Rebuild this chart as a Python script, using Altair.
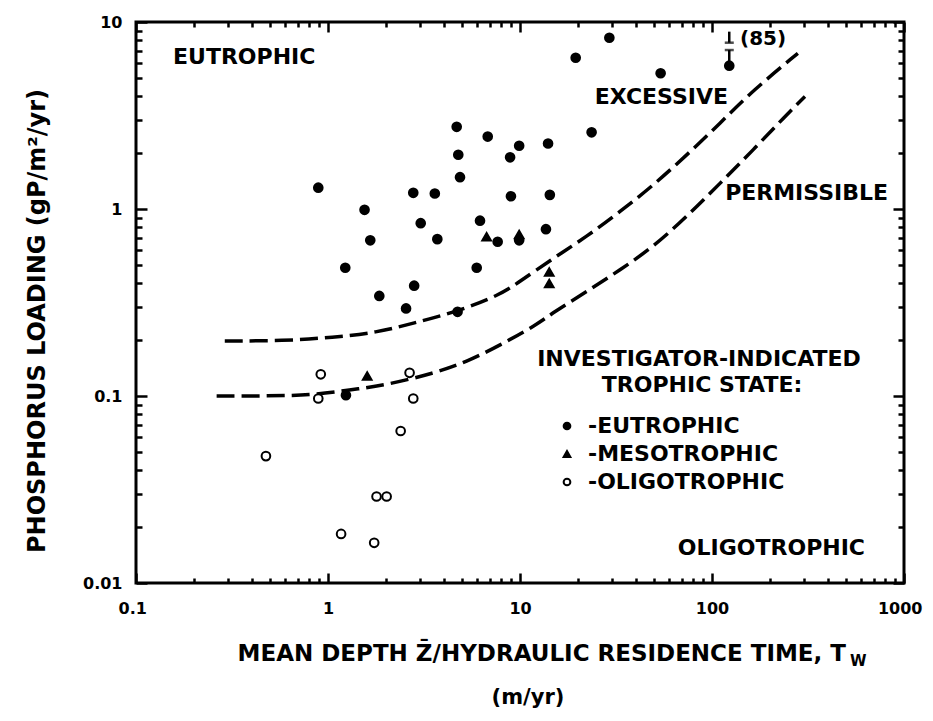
import altair as alt
import pandas as pd

# ---------------- data ----------------
eu_x = [0.89, 1.55, 1.66, 1.23, 1.85, 2.78, 3.6, 3.04, 3.71, 2.81, 2.55, 4.68, 4.77, 4.87,
        4.73, 6.79, 8.88, 9.9, 8.97, 6.19, 5.95, 7.65, 29.2, 19.5, 54, 123, 23.6, 14.0,
        14.3, 13.65, 1.24, 9.9]
eu_y = [1.30, 0.99, 0.68, 0.485, 0.343, 1.22, 1.21, 0.84, 0.69, 0.389, 0.294, 2.75, 1.95,
        1.48, 0.282, 2.44, 1.89, 2.18, 1.17, 0.866, 0.485, 0.668, 8.24, 6.44, 5.32, 5.84,
        2.57, 2.24, 1.19, 0.78, 0.101, 0.68]
meso_x = [6.7, 9.9, 14.2, 14.2, 1.60]
meso_y = [0.71, 0.73, 0.46, 0.40, 0.128]
oligo_x = [0.917, 0.89, 2.66, 2.78, 2.39, 0.475, 1.79, 2.02, 1.17, 1.74]
oligo_y = [0.1306, 0.097, 0.133, 0.097, 0.065, 0.0477, 0.029, 0.029, 0.0183, 0.0164]

states = ["EUTROPHIC", "MESOTROPHIC", "OLIGOTROPHIC"]

exc_x = [0.29, 0.585, 1.066, 1.79, 2.78, 4.68, 7.87, 10, 14.9, 22.2, 33.2, 49.5, 73.8,
         110, 164, 280]
exc_y = [0.197, 0.197, 0.206, 0.218, 0.245, 0.282, 0.347, 0.41, 0.545, 0.711, 0.967,
         1.34, 1.94, 2.87, 4.32, 6.8]
perm_x = [0.263, 0.48, 0.805, 1.30, 2.02, 3.53, 5.27, 7.87, 12.2, 14.9, 22.2, 33.2,
          49.5, 73.8, 110, 164, 245, 305]
perm_y = [0.1, 0.1, 0.101, 0.1076, 0.1146, 0.132, 0.152, 0.187, 0.24, 0.28, 0.361,
          0.472, 0.628, 0.91, 1.37, 2.07, 3.2, 4.0]

# off-scale point (85) marker
off_x = [123, 123]
off_lo = [5.84, 7.75]
off_hi = [7.08, 8.88]

x_major = [0.1, 1, 10, 100, 1000]
x_minor = [0.2, 0.3, 0.4, 0.5, 0.6, 0.7, 0.8, 0.9,
           2, 3, 4, 5, 6, 7, 8, 9,
           20, 30, 40, 50, 60, 70, 80, 90,
           200, 300, 400, 500, 600, 700, 800, 900]
y_major = [0.01, 0.1, 1, 10]
y_minor = [0.02, 0.03, 0.04, 0.05, 0.06, 0.07, 0.08, 0.09,
           0.2, 0.3, 0.4, 0.5, 0.6, 0.7, 0.8, 0.9,
           2, 3, 4, 5, 6, 7, 8, 9]

# ---------------- tables ----------------
pts = pd.DataFrame({
    "x": eu_x + meso_x + oligo_x,
    "y": eu_y + meso_y + oligo_y,
    "state": [states[0]] * len(eu_x) + [states[1]] * len(meso_x) + [states[2]] * len(oligo_x),
})
curves = pd.DataFrame({
    "x": exc_x + perm_x,
    "y": exc_y + perm_y,
    "curve": ["EXCESSIVE"] * len(exc_x) + ["PERMISSIBLE"] * len(perm_x),
    "i": list(range(len(exc_x))) + list(range(len(perm_x))),
})
offbar = pd.DataFrame({"x": off_x, "y": off_lo, "y2": off_hi})
offcap = pd.DataFrame({"x": off_x, "y": [off_hi[0], off_lo[1]]})

FONT = "DejaVu Sans"
W, H = 768, 561

xs = alt.Scale(type="log", domain=[0.1, 1000], nice=False)
ys = alt.Scale(type="log", domain=[0.01, 10], nice=False)


def ax(orient, values, size, labels=False, flush=False, **kw):
    return alt.Axis(orient=orient, values=values, tickSize=size, offset=-size,
                    domain=False, grid=False, labels=labels, ticks=True,
                    tickColor="black", tickWidth=2.5, labelFlush=flush,
                    labelOverlap=False, labelFont=FONT, labelFontWeight="bold",
                    labelFontSize=16, labelColor="black",
                    labelExpr="toString(datum.value)", **kw)


leg = alt.Legend(title=None, orient="none", legendX=420, legendY=393, padding=0,
                 labelFont=FONT, labelFontWeight="bold", labelFontSize=22,
                 labelColor="black", labelExpr="'-' + datum.label", labelLimit=500,
                 symbolSize=45, symbolStrokeWidth=2, labelOffset=10, rowPadding=6)

points = alt.Chart(pts).mark_point(filled=True, strokeWidth=2, opacity=1, size=75).encode(
    x=alt.X("x:Q", scale=xs, title=None,
            axis=ax("bottom", x_major, 10, labels=True, flush=True,
                    labelFlushOffset=18, labelPadding=17)),
    y=alt.Y("y:Q", scale=ys, title=None,
            axis=ax("left", y_major, 11, labels=True, labelPadding=14)),
    shape=alt.Shape("state:N", scale=alt.Scale(domain=states, range=["circle", "triangle-up", "circle"]), legend=leg),
    fill=alt.Fill("state:N", scale=alt.Scale(domain=states, range=["black", "black", "white"]), legend=leg),
    stroke=alt.Stroke("state:N", scale=alt.Scale(domain=states, range=["black", "black", "black"]), legend=leg),
)

lines = alt.Chart(curves).mark_line(strokeDash=[18, 7], strokeWidth=3.5, color="black",
                                    interpolate="basis").encode(
    x=alt.X("x:Q", scale=xs, title=None, axis=ax("top", x_major, 10)),
    y=alt.Y("y:Q", scale=ys, title=None, axis=ax("right", y_major, 11)),
    detail="curve:N",
    order="i:Q",
)

minor_a = alt.Chart(pts).mark_point(opacity=0).encode(
    x=alt.X("x:Q", scale=xs, title=None, axis=ax("bottom", x_minor, 5)),
    y=alt.Y("y:Q", scale=ys, title=None, axis=ax("left", y_minor, 6)),
)
minor_b = alt.Chart(pts).mark_point(opacity=0).encode(
    x=alt.X("x:Q", scale=xs, title=None, axis=ax("top", x_minor, 5)),
    y=alt.Y("y:Q", scale=ys, title=None, axis=ax("right", y_minor, 6)),
)

bar = alt.Chart(offbar).mark_rule(strokeWidth=2.5, color="black").encode(
    x=alt.X("x:Q", scale=xs, axis=None),
    y=alt.Y("y:Q", scale=ys, axis=None),
    y2="y2:Q",
)
caps = alt.Chart(offcap).mark_tick(orient="horizontal", size=9, thickness=2.5, color="black").encode(
    x=alt.X("x:Q", scale=xs, axis=None),
    y=alt.Y("y:Q", scale=ys, axis=None),
)


def label(text, px, py, size=22, align="left", angle=0):
    return alt.Chart(pd.DataFrame({"t": [text]})).mark_text(
        font=FONT, fontWeight="bold", fontSize=size, align=align, baseline="middle",
        color="black", angle=angle,
    ).encode(text="t:N", x=alt.value(px), y=alt.value(py))


texts = [
    label("EUTROPHIC", 37, 35),
    label("EXCESSIVE", 592, 75, align="right"),
    label("PERMISSIBLE", 752, 171, align="right"),
    label("INVESTIGATOR-INDICATED", 563, 337, align="center"),
    label("TROPHIC STATE:", 566, 363, align="center"),
    label("OLIGOTROPHIC", 729, 526, align="right"),
    label("(85)", 604, 17, size=20),
    label("MEAN DEPTH Z\u0304/HYDRAULIC RESIDENCE TIME, T", 710, 632, size=23, align="right"),
    label("W", 714, 639, size=15),
    label("(m/yr)", 392, 676, size=21, align="center"),
    label("PHOSPHORUS LOADING (gP/m\u00b2/yr)", -98, 299, size=24, align="center", angle=270),
]

chart = alt.layer(lines, points, minor_a, minor_b, bar, caps, *texts).resolve_axis(
    x="independent", y="independent"
).properties(
    width=W, height=H,
    autosize=alt.AutoSizeParams(type="none"),
    padding={"left": 128, "top": 14, "right": 21, "bottom": 128},
    background="white",
).configure_view(stroke="black", strokeWidth=3)

chart.save("out.html", embed_options={"renderer": "svg", "actions": False})
